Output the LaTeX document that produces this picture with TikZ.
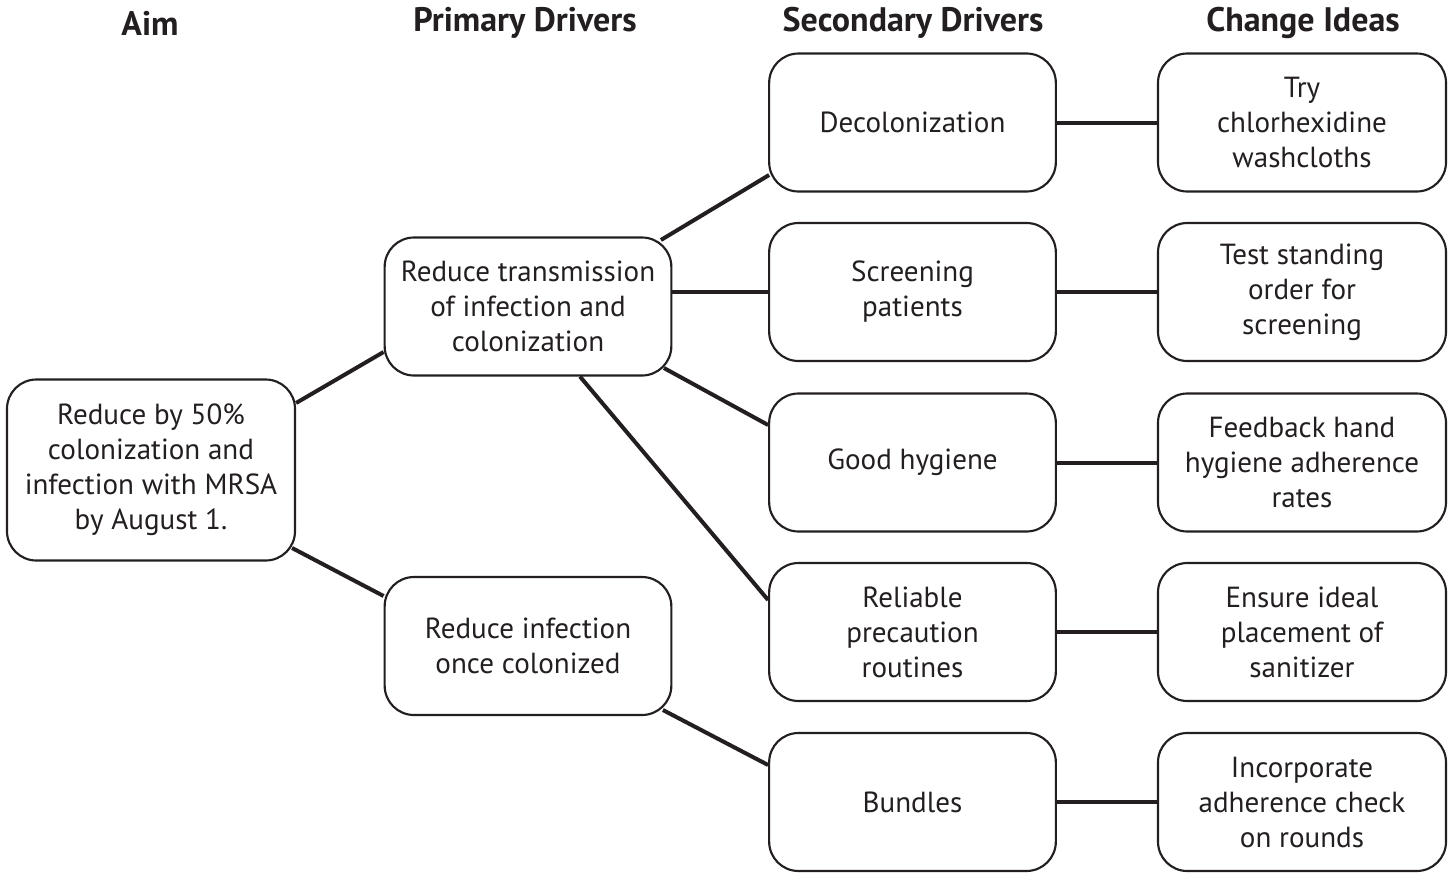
\documentclass[tikz,border=0pt]{standalone}
\usepackage{fontspec}
\setmainfont{PT Sans}
\usetikzlibrary{calc}
\definecolor{ink}{HTML}{231F20}
\begin{document}
\begin{tikzpicture}[x=0.75pt,y=-0.75pt,
  box/.style={draw=ink, line width=1.6pt, rounded corners=22pt, minimum width=215pt, minimum height=103.5pt, inner sep=0pt, align=center, font=\fontsize{21.8}{26.25}\selectfont, text=ink},
  hdr/.style={font=\bfseries\fontsize{25.5}{28}\selectfont, text=ink},
  link/.style={draw=ink, line width=3pt}]
\useasboundingbox[fill=white] (0,0) rectangle (1453,872);
% headers
\node[hdr] (h1) at (150,23) {Aim};
\node[hdr] (h2) at (525,23) {Primary Drivers};
\node[hdr] (h3) at (913,23) {Secondary Drivers};
\node[hdr] (h4) at (1303,23) {Change Ideas};
% aim
\node[box, minimum width=216pt, minimum height=135.75pt] (aim) at (151,470) {Reduce by 50\%\\colonization and\\infection with MRSA\\by August 1.};
% primary
\node[box] (p1) at (528,306.5) {Reduce transmission\\of infection and\\colonization};
\node[box] (p2) at (528,646) {Reduce infection\\once colonized};
% secondary
\node[box] (s1) at (912.5,122.5) {Decolonization};
\node[box] (s2) at (912.5,292) {Screening\\patients};
\node[box] (s3) at (912.5,462.5) {Good hygiene};
\node[box] (s4) at (912.5,632) {Reliable\\precaution\\routines};
\node[box] (s5) at (912.5,802) {Bundles};
% change ideas
\node[box, minimum width=216pt] (c1) at (1302,122.5) {Try\\chlorhexidine\\washcloths};
\node[box, minimum width=216pt] (c2) at (1302,292) {Test standing\\order for\\screening};
\node[box, minimum width=216pt] (c3) at (1302,462.5) {Feedback hand\\hygiene adherence\\rates};
\node[box, minimum width=216pt] (c4) at (1302,632) {Ensure ideal\\placement of\\sanitizer};
\node[box, minimum width=216pt] (c5) at (1302,802) {Incorporate\\adherence check\\on rounds};
% connectors
\draw[link] ($(aim.east)+(0,-67)$) -- ($(p1.west)+(0,45.5)$);
\draw[link] ($(aim.east)+(-4,78)$) -- ($(p2.west)+(0,-50)$);
\draw[link] ($(p1.east)+(-11.5,-66.5)$) -- ($(s1.west)+(1,52.5)$);
\draw[link] (s2.west -| p1.east) -- (s2.west);
\draw[link] ($(p1.east)+(-8.5,61.5)$) -- ($(s3.west)+(0,-37.5)$);
\draw[link] ($(p1.south)+(52,0)$) -- ($(s4.west)+(0,-32)$);
\draw[link] ($(p2.east)+(-9.5,64)$) -- ($(s5.west)+(0,-37)$);
\draw[link] (s1.east) -- (c1.west);
\draw[link] (s2.east) -- (s2.east -| c2.west);
\draw[link] (s3.east) -- (c3.west);
\draw[link] (s4.east) -- (s4.east -| c4.west);
\draw[link] (s5.east) -- (c5.west);
\end{tikzpicture}
\end{document}
